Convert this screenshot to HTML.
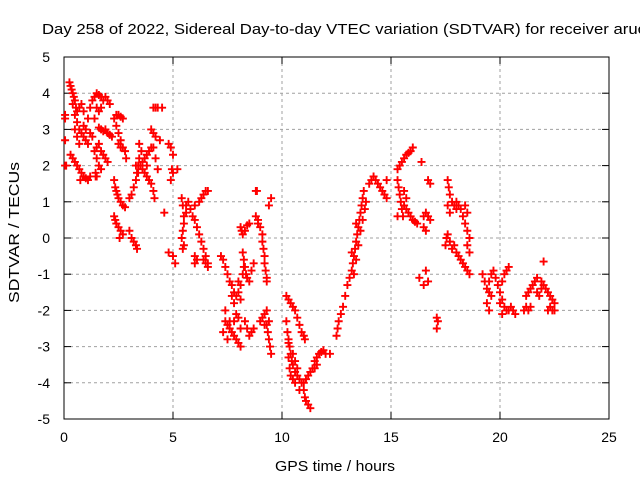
<!DOCTYPE html>
<html><head><meta charset="utf-8"><style>
html,body{margin:0;padding:0;background:#fff;overflow:hidden;}
svg{display:block;font-family:"Liberation Sans",sans-serif;}
</style></head><body>
<svg id="chart" width="640" height="480" viewBox="0 0 640 480">
<text x="42" y="34" font-size="15" fill="#000" textLength="604" lengthAdjust="spacingAndGlyphs">Day 258 of 2022, Sidereal Day-to-day VTEC variation (SDTVAR) for receiver aruc</text>
<g id="grid"></g>
<g id="axes"></g>
<g id="points"></g>
<text x="275" y="471" font-size="15" textLength="120" lengthAdjust="spacingAndGlyphs">GPS time / hours</text>
<text transform="translate(19,303) rotate(-90)" font-size="15" textLength="141" lengthAdjust="spacingAndGlyphs">SDTVAR / TECUs</text>
</svg>
<script>
const xTicks=[0,5,10,15,20,25];
const yTicks=[5,4,3,2,1,0,-1,-2,-3,-4,-5];
const pts=[
[0.05,3.4],[0.05,3.3],[0.05,2.7],[0.05,2.0],[0.1,2.0],
[0.25,4.3],[0.3,4.2],[0.35,4.1],[0.4,4.0],[0.45,3.9],[0.5,3.8],[0.4,3.7],[0.55,3.6],[0.6,3.5],[0.7,3.6],[0.8,3.7],[0.5,3.4],[0.6,3.2],[0.7,3.0],[0.8,2.9],[0.9,2.8],[1.0,2.7],[1.1,2.6],[0.5,3.0],[0.6,2.8],[0.7,2.6],[0.9,3.1],[1.0,3.0],[1.2,2.9],[1.3,2.8],[1.1,3.3],[0.9,3.5],[1.2,3.6],
[0.3,2.3],[0.4,2.2],[0.5,2.1],[0.6,2.0],[0.7,1.9],[0.8,1.8],[0.9,1.7],[1.0,1.65],[1.1,1.6],[1.2,1.7],[0.75,1.6],[1.45,1.7],
[1.3,3.8],[1.4,3.9],[1.5,4.0],[1.6,3.95],[1.7,3.9],[1.8,3.8],[1.9,3.9],[2.0,3.8],[2.1,3.7],[1.5,3.6],[1.6,3.5],[1.7,3.6],[1.4,3.3],
[1.6,3.05],[1.7,3.0],[1.8,2.95],[1.9,3.0],[2.0,2.9],[2.1,2.85],[2.2,2.8],
[1.4,2.4],[1.5,2.5],[1.6,2.6],[1.7,2.4],[1.8,2.3],[1.5,2.2],[1.6,2.0],[1.7,1.9],[1.45,1.8],[1.9,2.2],[2.0,2.1],[1.5,1.7],
[2.3,3.3],[2.4,3.4],[2.5,3.4],[2.6,3.35],[2.7,3.3],[2.4,3.1],[2.5,2.9],[2.6,2.7],[2.7,2.5],[2.8,2.4],[2.5,2.6],[2.6,2.5],[2.85,2.2],
[2.3,1.6],[2.35,1.4],[2.4,1.3],[2.45,1.2],[2.5,1.1],[2.6,1.0],[2.7,0.9],[2.8,0.85],
[2.3,0.6],[2.35,0.5],[2.4,0.4],[2.5,0.3],[2.6,0.2],[2.7,0.1],[2.55,0.0],
[3.0,0.2],[3.1,0.0],[3.2,-0.1],[3.3,-0.2],[3.35,-0.3],
[3.0,1.1],[3.1,1.2],[3.2,1.4],[3.3,1.6],[3.35,1.8],[3.4,2.0],[3.45,2.2],[3.3,2.0],[3.4,1.8],[3.5,2.0],[3.6,2.1],[3.7,2.2],[3.8,2.3],[3.9,2.4],[4.0,2.5],[4.1,2.5],[3.6,1.9],[3.7,1.8],[3.8,1.7],[3.9,1.6],[4.0,1.5],[4.1,1.3],[4.15,1.1],[3.55,2.4],[3.45,2.6],[3.8,2.0],[4.2,2.2],[4.3,1.9],
[4.1,3.6],[4.2,3.6],[4.3,3.6],[4.5,3.6],
[4.0,3.0],[4.1,2.9],[4.2,2.8],[4.4,2.7],
[4.8,2.6],[4.9,2.5],[5.0,2.3],[4.95,1.9],[5.0,1.8],[5.2,1.9],[4.9,1.6],[4.6,0.7],[4.8,-0.4],[5.0,-0.5],[5.1,-0.7],
[5.4,1.1],[5.45,0.9],[5.5,0.6],[5.5,0.4],[5.45,0.2],[5.4,0.0],[5.5,-0.2],[5.45,-0.3],[5.6,0.7],[5.7,1.0],[5.6,0.9],[5.8,0.8],[5.9,0.6],[6.0,0.5],[6.1,0.3],[6.2,0.1],[6.3,-0.1],[6.4,-0.3],[6.5,-0.5],[6.6,-0.7],[6.2,1.0],[6.3,1.1],[6.4,1.2],[6.5,1.3],[6.6,1.3],[6.0,0.9],
[6.0,-0.5],[6.1,-0.6],[6.0,-0.7],[6.4,-0.6],[6.5,-0.7],[6.6,-0.8],
[7.2,-0.5],[7.3,-0.6],[7.4,-0.8],[7.5,-1.0],[7.6,-1.2],[7.7,-1.3],[7.8,-1.5],[7.9,-1.6],[8.0,-1.5],[8.1,-1.3],[8.2,-1.0],[8.25,-0.8],[7.7,-1.6],[7.8,-1.8],[8.0,-1.2],[8.1,-1.7],
[7.4,-2.0],[7.4,-2.3],[7.3,-2.6],[7.5,-2.4],[7.6,-2.5],[7.7,-2.6],[7.8,-2.7],[7.9,-2.8],[8.0,-2.9],[8.1,-3.0],[7.8,-2.3],[7.9,-2.1],[8.0,-2.2],[8.1,-2.5],[7.5,-2.8],[7.6,-2.3],
[8.1,0.3],[8.15,0.2],[8.2,0.1],[8.3,0.2],[8.4,0.35],[8.5,0.4],[8.8,0.6],[8.9,0.5],
[8.2,-0.4],[8.25,-0.6],[8.3,-0.8],[8.35,-1.0],[8.4,-1.1],[8.5,-1.2],[8.6,-0.9],[8.7,-0.7],
[8.9,0.4],[9.0,0.3],[9.1,0.1],[9.1,-0.1],[9.15,-0.3],[9.2,-0.5],[9.2,-0.7],[9.25,-0.9],[9.3,-1.1],[9.3,-1.2],
[8.3,-2.3],[8.4,-2.5],[8.5,-2.7],[8.6,-2.6],[8.7,-2.5],[9.0,-2.3],[9.1,-2.2],[9.2,-2.1],[9.3,-2.0],[9.3,-2.4],[9.35,-2.6],[9.4,-2.8],[9.45,-3.0],[9.5,-3.2],[9.4,-2.3],[9.2,-2.4],
[8.8,1.3],[8.85,1.3],[9.4,0.9],[9.5,1.1],
[10.2,-1.6],[10.3,-1.7],[10.4,-1.8],[10.5,-1.9],[10.6,-2.0],[10.7,-2.2],[10.8,-2.4],[10.9,-2.6],[11.0,-2.7],[11.05,-2.8],
[10.2,-2.3],[10.25,-2.6],[10.3,-2.8],[10.35,-3.0],[10.4,-3.2],[10.45,-3.4],[10.5,-3.5],[10.6,-3.7],[10.7,-3.8],[10.8,-3.9],[10.9,-4.0],[10.3,-3.3],[10.35,-3.6],[10.4,-3.8],[10.5,-3.9],[10.6,-4.0],[10.7,-3.6],[10.5,-3.2],[10.6,-3.4],[11.0,-4.2],[11.05,-4.4],[11.1,-4.5],[11.2,-4.6],[11.3,-4.7],[10.8,-4.2],[10.3,-2.9],
[11.0,-4.0],[11.1,-3.9],[11.2,-3.8],[11.3,-3.7],[11.4,-3.6],[11.5,-3.4],[11.6,-3.3],[11.7,-3.2],[11.8,-3.15],[11.9,-3.1],[12.0,-3.2],[12.2,-3.2],[11.5,-3.6],[11.6,-3.5],
[12.5,-2.7],[12.55,-2.5],[12.6,-2.3],[12.7,-2.1],[12.8,-1.9],[12.9,-1.6],[13.0,-1.3],[13.1,-1.1],[13.2,-0.9],[13.25,-0.7],[13.3,-0.5],[13.35,-0.3],[13.4,-0.1],[13.45,0.1],[13.5,0.3],[13.55,0.5],[13.6,0.7],[13.65,0.9],[13.7,1.1],[13.75,1.3],[13.3,-1.0],[13.4,-0.6],[13.5,-0.2],[13.6,0.2],[13.7,0.5],[13.8,0.8],[13.85,1.0],[13.2,-0.4],[13.4,0.4],
[14.0,1.5],[14.1,1.6],[14.2,1.7],[14.3,1.6],[14.4,1.5],[14.5,1.4],[14.6,1.3],[14.7,1.2],[14.8,1.6],[14.8,1.1],[15.3,0.6],
[15.3,1.9],[15.4,2.0],[15.5,2.1],[15.6,2.2],[15.7,2.3],[15.8,2.35],[15.9,2.4],[16.0,2.5],[16.4,2.1],
[15.3,1.6],[15.35,1.4],[15.4,1.2],[15.45,1.0],[15.5,0.8],[15.55,0.6],[15.6,0.9],[15.7,0.8],[15.8,0.7],[15.9,0.6],[16.0,0.5],[16.1,0.45],[16.2,0.4],[15.6,1.3],[15.7,1.1],
[16.5,0.6],[16.6,0.7],[16.7,0.6],[16.8,0.5],[16.5,0.3],[16.6,0.2],[16.7,1.6],[16.8,1.5],
[17.6,1.6],[17.65,1.4],[17.7,1.2],[17.6,0.9],[17.7,0.7],[17.8,1.0],[17.9,0.9],[18.0,0.8],
[17.5,-0.2],[17.55,0.0],[17.6,0.1],[17.7,-0.1],[17.8,-0.3],[17.9,-0.2],[18.0,-0.4],[18.1,-0.5],[18.2,-0.6],[18.3,-0.7],[18.4,-0.8],[18.5,-0.9],[18.6,-1.0],
[18.0,1.0],[18.1,0.9],[18.2,0.8],[18.3,0.6],[18.4,0.4],[18.5,0.2],[18.6,0.0],[18.5,-0.2],[18.6,-0.4],[18.4,0.9],[18.5,0.7],
[16.3,-1.1],[16.6,-0.9],[16.7,-1.2],[16.5,-1.3],[17.1,-2.2],[17.15,-2.3],[17.1,-2.5],
[19.2,-1.0],[19.3,-1.2],[19.4,-1.4],[19.5,-1.5],[19.6,-1.6],[19.5,-1.2],[19.6,-1.0],[19.7,-0.9],[19.8,-1.1],[19.9,-1.3],[20.0,-1.5],[20.1,-1.7],[20.2,-1.9],[20.3,-2.0],[20.1,-1.2],[20.2,-1.0],[20.3,-0.9],[20.4,-0.8],[20.0,-1.8],[20.1,-2.1],[20.4,-2.0],[20.5,-1.9],[20.6,-2.0],[20.7,-2.1],[19.4,-1.8],[19.5,-2.0],
[21.2,-1.6],[21.3,-1.5],[21.4,-1.4],[21.5,-1.3],[21.6,-1.2],[21.7,-1.5],[21.8,-1.6],[21.9,-1.4],[21.7,-1.1],[21.9,-1.2],[22.0,-1.3],[22.1,-1.4],[22.2,-1.5],[22.3,-1.6],[22.4,-1.7],[22.5,-1.8],[22.2,-2.0],[22.3,-1.9],[22.4,-2.0],[22.5,-2.0],[21.1,-2.0],[21.2,-1.9],[21.3,-2.0],[21.4,-1.9],[22.0,-0.65]
];
const NS='http://www.w3.org/2000/svg';
const L=64,R=609,T=57,B=419;
const xS=t=>L+(t-0)/(25-0)*(R-L);
const yS=v=>B-(v+5)/10*(B-T);
const grid=document.getElementById('grid'),axes=document.getElementById('axes'),pg=document.getElementById('points');
function mk(tag,attrs,parent){const e=document.createElementNS(NS,tag);for(const k in attrs)e.setAttribute(k,attrs[k]);parent.appendChild(e);return e;}
xTicks.forEach(t=>{const x=xS(t);
 if(t>0&&t<25){const g=mk('line',{x1:x,x2:x,y1:T,y2:B,stroke:'#a0a0a0','stroke-dasharray':'3,3'},grid);
 
 }
 mk('line',{x1:x,x2:x,y1:B,y2:B-7,stroke:'#000'},axes);
 mk('line',{x1:x,x2:x,y1:T,y2:T+7,stroke:'#000'},axes);
 const tx=mk('text',{x:x,y:B+23,'font-size':14,'text-anchor':'middle'},axes);tx.textContent=t;
 
 
});
yTicks.forEach(v=>{const y=yS(v);
 if(v>-5&&v<5){const g=mk('line',{x1:L,x2:R,y1:y,y2:y,stroke:'#a0a0a0','stroke-dasharray':'3,3'},grid);
 
 }
 mk('line',{x1:L,x2:L+7,y1:y,y2:y,stroke:'#000'},axes);
 mk('line',{x1:R,x2:R-7,y1:y,y2:y,stroke:'#000'},axes);
 const tx=mk('text',{x:50,y:y+5,'font-size':14,'text-anchor':'end'},axes);tx.textContent=v;
 
 
});
const box=mk('rect',{x:L,y:T,width:R-L,height:B-T,fill:'none',stroke:'#000'},axes);


let d='';
pts.forEach(p=>{const x=xS(p[0]),y=yS(p[1]);d+=`M${x-4},${y}h8M${x},${y-4}v8`;});
const path=mk('path',{d:d,stroke:'#ff0000','stroke-width':1.9,fill:'none'},pg);


</script>
</body></html>
